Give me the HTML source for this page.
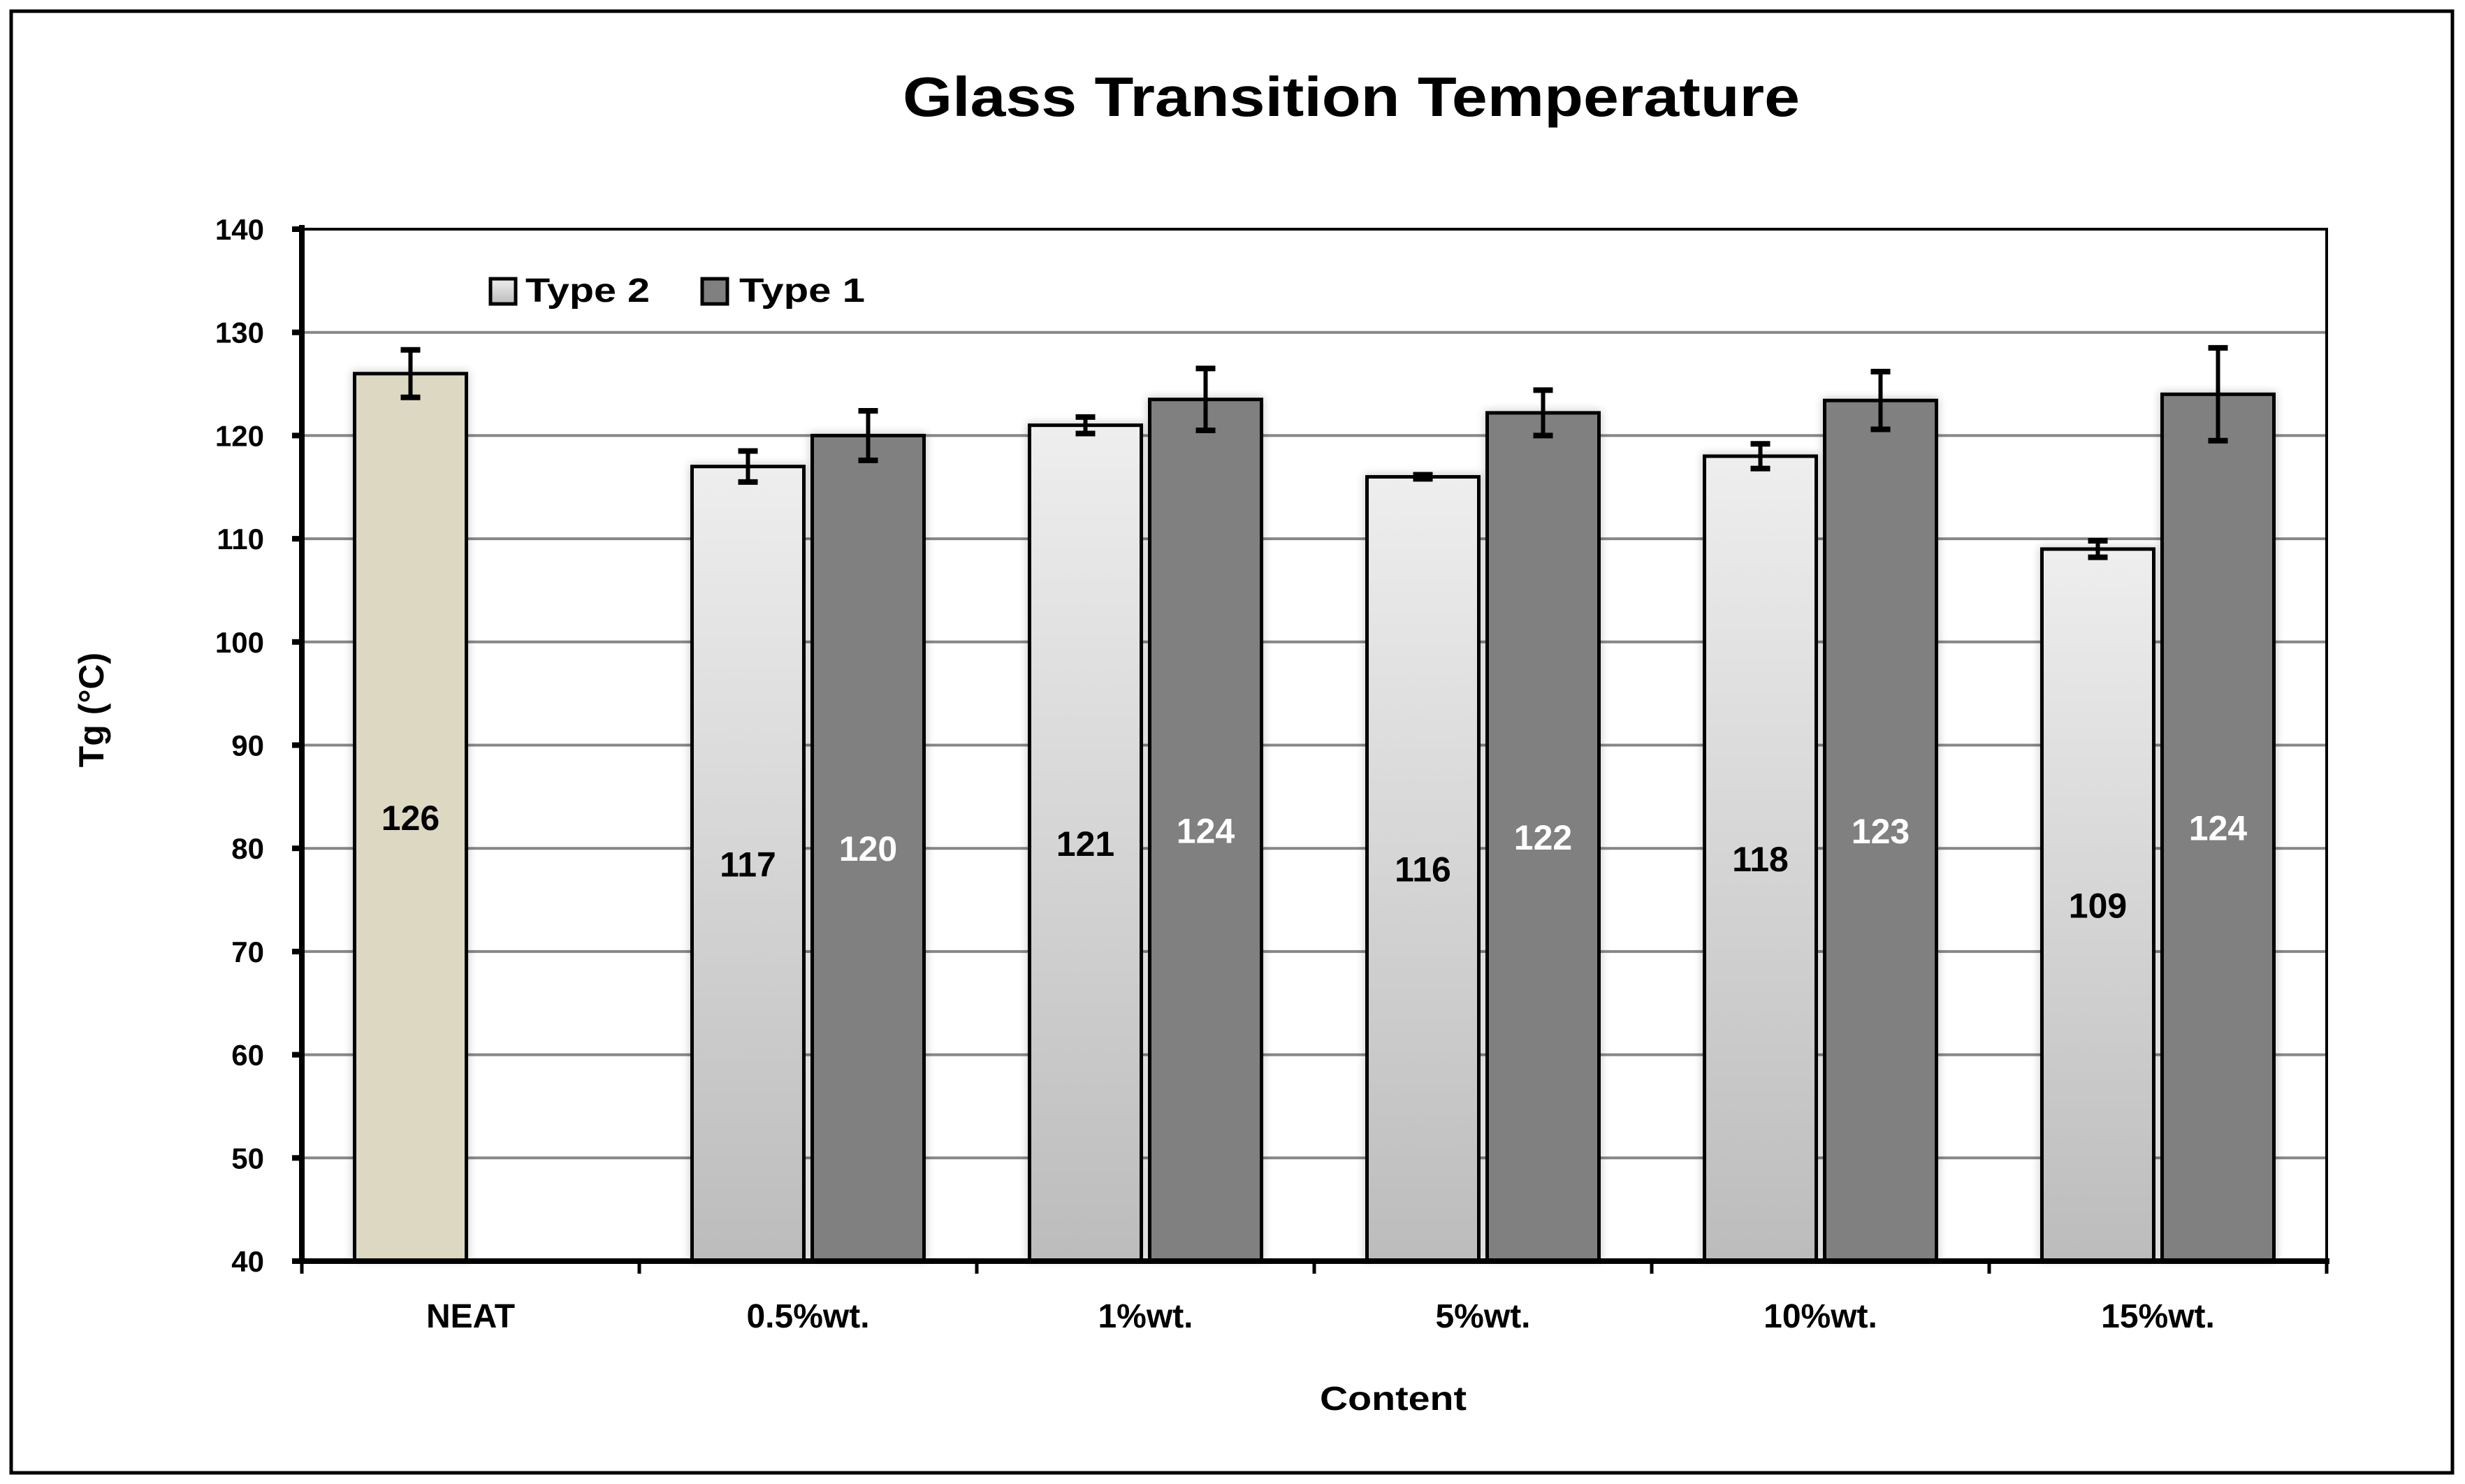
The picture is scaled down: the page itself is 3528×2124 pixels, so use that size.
<!DOCTYPE html>
<html><head><meta charset="utf-8"><style>
html,body{margin:0;padding:0;background:#fff;}
svg{display:block;font-family:"Liberation Sans",sans-serif;}
</style></head><body>
<svg id="chart" width="3528" height="2124" viewBox="0 0 3528 2124" xmlns="http://www.w3.org/2000/svg">
<defs>
<linearGradient id="g2" x1="0" y1="0" x2="0" y2="1"><stop offset="0" stop-color="#eeeeee"/><stop offset="1" stop-color="#bcbcbc"/></linearGradient>
<filter id="sh" x="-20%" y="-5%" width="140%" height="110%"><feGaussianBlur stdDeviation="6"/></filter>
</defs>
<rect x="16" y="16" width="3494" height="2092" fill="#fff" stroke="#000" stroke-width="5"/>
<text x="1934" y="166" text-anchor="middle" font-size="80" font-weight="bold" textLength="1284" lengthAdjust="spacingAndGlyphs">Glass Transition Temperature</text>
<g id="grid"></g>
<g id="bars"></g>
<g id="axes"></g>
<g>
<rect x="702" y="399" width="36" height="36" fill="url(#g2)" stroke="#000" stroke-width="5"/>
<text x="752" y="432" font-size="48" font-weight="bold" textLength="178" lengthAdjust="spacingAndGlyphs">Type 2</text>
<rect x="1005" y="399" width="36" height="36" fill="#808080" stroke="#000" stroke-width="5"/>
<text x="1058" y="432" font-size="48" font-weight="bold" textLength="180" lengthAdjust="spacingAndGlyphs">Type 1</text>
</g>
<text transform="translate(148,1016) rotate(-90)" text-anchor="middle" font-size="50" font-weight="bold">Tg  (°C)</text>
<text x="1994" y="2018" text-anchor="middle" font-size="48" font-weight="bold" textLength="210" lengthAdjust="spacingAndGlyphs">Content</text>
</svg>
<script>
const categories = ["NEAT","0.5%wt.","1%wt.","5%wt.","10%wt.","15%wt."];
const type2Values = [126,117,121,116,118,109];
const type2Errors = [2.3,1.5,0.8,0.2,1.2,0.8];
const type2Labels = ["126","117","121","116","118","109"];
const type1Values = [null,120,123.5,122.2,123.4,124];
const type1Errors = [null,2.4,3,2.2,2.8,4.5];
const type1Labels = ["","120","124","122","123","124"];
const yTicks = [40,50,60,70,80,90,100,110,120,130,140];

const NS="http://www.w3.org/2000/svg";
const L=432,R=3330,T=328,B=1805,yMin=40,yMax=140;
const y=v=>B-(v-yMin)/(yMax-yMin)*(B-T);
const cw=(R-L)/categories.length;
const cx=i=>L+cw*(i+0.5);
const bw=160, off=86;
function mk(tag,attrs,parent){const e=document.createElementNS(NS,tag);for(const k in attrs)e.setAttribute(k,attrs[k]);parent.appendChild(e);return e;}
const grid=document.getElementById('grid'),bars=document.getElementById('bars'),axes=document.getElementById('axes');
yTicks.forEach(t=>{
  if(t>yMin){const g=mk('line',{x1:L,x2:R,y1:y(t),y2:y(t),stroke:'#878787','stroke-width':4},grid);
  
  }
  const tk=mk('line',{x1:L-14,x2:L,y1:y(t),y2:y(t),stroke:'#000','stroke-width':8},axes);
  
  
  const lb=mk('text',{x:L-54,y:y(t)+15,'text-anchor':'end','font-size':42,'font-weight':'bold'},axes);
  lb.textContent=t;
  
  
});
const fr=mk('rect',{x:L,y:T,width:R-L,height:B-T,fill:'none',stroke:'#000','stroke-width':4},axes);


const ya=mk('line',{x1:L,x2:L,y1:T-6,y2:B,stroke:'#000','stroke-width':8},axes);


const xa=mk('line',{x1:L-14,x2:R+4,y1:B,y2:B,stroke:'#000','stroke-width':8},axes);


for(let i=0;i<=categories.length;i++){
  const t=mk('line',{x1:L+cw*i,x2:L+cw*i,y1:B,y2:B+18,stroke:'#000','stroke-width':5},axes);
  
  
}
categories.forEach((c,i)=>{
  const t=mk('text',{x:cx(i),y:B+95,'text-anchor':'middle','font-size':48,'font-weight':'bold'},axes);
  t.textContent=c;
  
  
});
function bar(i,v,e,lab,xc,fill,txtCol,name){
  const top=y(v);
  const s=mk('rect',{x:xc-bw/2-4,y:top-4,width:bw+8,height:B-top+4,fill:'#000',opacity:0.18,filter:'url(#sh)'},bars);
  
  
  const r=mk('rect',{x:xc-bw/2,y:top,width:bw,height:B-top,fill:fill,stroke:'#000','stroke-width':5},bars);
  
  
  const eg=mk('g',{stroke:'#000'},bars);
  
  
  mk('line',{x1:xc,x2:xc,y1:y(v+e),y2:y(v-e),'stroke-width':6},eg);
  mk('line',{x1:xc-14,x2:xc+14,y1:y(v+e),y2:y(v+e),'stroke-width':8},eg);
  mk('line',{x1:xc-14,x2:xc+14,y1:y(v-e),y2:y(v-e),'stroke-width':8},eg);
  const t=mk('text',{x:xc,y:(top+B)/2+18,'text-anchor':'middle','font-size':50,'font-weight':'bold',fill:txtCol},bars);
  t.textContent=lab;
  
  
}
categories.forEach((c,i)=>{
  const neat = type1Values[i]===null;
  bar(i,type2Values[i],type2Errors[i],type2Labels[i],cx(i)-off,neat?'#ddd8c2':'url(#g2)','#000',neat?'bar-neat':'bar-type2-'+i);
  if(!neat) bar(i,type1Values[i],type1Errors[i],type1Labels[i],cx(i)+off,'#808080','#fff','bar-type1-'+i);
});
</script>
</body></html>
